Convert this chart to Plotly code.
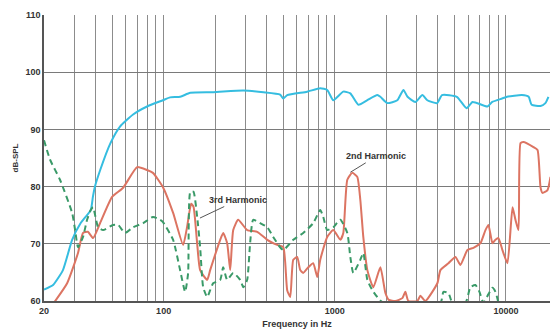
import numpy as np
import plotly.graph_objects as go

# Fundamental (blue)
fund_f = [20, 22.6, 25.8, 29.2, 32.7, 37.5, 38.6, 39.6, 42.6, 48.9, 55.6, 66.3, 80, 99, 109, 125, 143, 195, 292, 383,
          479, 500, 527, 689, 822, 903, 980, 1121, 1232, 1375, 1549, 1771, 1846, 2025, 2318, 2518, 2659, 2957, 3246, 3470,
          3959, 4229, 5161, 5890, 6381, 7785, 8315, 9495, 10140, 12380, 13570, 14120, 15910, 16990, 17700]
fund_db = [62.0, 62.8, 65.4, 70.7, 73.6, 75.9, 78.2, 79.9, 82.9, 87.6, 90.5, 92.6, 94.0, 95.1, 95.6, 95.7, 96.4, 96.5, 96.8, 96.5,
           96.1, 95.4, 96.0, 96.6, 97.2, 96.9, 95.1, 96.6, 96.3, 94.3, 95.1, 96.0, 95.7, 94.6, 95.1, 96.9, 95.7, 94.8, 96.0, 95.1,
           94.6, 96.0, 95.7, 93.7, 94.8, 94.0, 94.8, 95.4, 95.7, 96.0, 95.7, 94.3, 94.1, 94.6, 95.7]

# 2nd harmonic (red)
h2_f = [23, 27.3, 31.6, 33.8, 36.1, 38.7, 42.5, 50, 58, 70, 80, 86.6, 99.1, 113.6, 130, 137, 144.8, 149.4, 157, 163.4,
        179.6, 187, 214, 222.8, 235, 244.8, 255, 272.6, 307.6, 352, 403, 461, 500, 527, 549, 572, 603, 628, 654, 700,
        748, 790, 822, 903, 980, 1077, 1121, 1183, 1265, 1353, 1409, 1467, 1549, 1679, 1846, 1975, 2068, 2257, 2481, 2583,
        2690, 3035, 3163, 3381, 3973, 4140, 4612, 5066, 5418, 5953, 6455, 7092, 7587, 7900, 8337, 8679, 9037, 9535, 10200, 10920,
        11360, 11830, 12160, 12650, 14480, 15290, 15910, 16340, 17480, 18200]
h2_db = [59.8, 63.1, 68.4, 71.9, 72.1, 71.0, 73.6, 78.2, 79.8, 83.4, 82.9, 82.4, 79.9, 75.4, 69.8, 72.9, 77.0, 76.5, 70.0, 65.4,
         63.7, 65.4, 70.7, 71.9, 70.1, 65.4, 72.4, 74.2, 72.4, 72.1, 70.7, 69.8, 69.4, 61.9, 60.7, 67.2, 67.7, 65.4, 64.9, 65.9,
         66.6, 64.2, 67.2, 71.2, 72.4, 70.7, 71.9, 81.2, 82.4, 81.7, 77.7, 71.2, 65.4, 62.4, 65.9, 61.4, 60.2, 60.0, 60.5, 61.6,
         60.0, 60.0, 60.9, 60.0, 63.1, 65.4, 66.6, 67.7, 66.3, 68.9, 69.3, 70.1, 72.4, 73.3, 70.1, 70.7, 71.0, 68.9, 66.6, 76.4,
         74.2, 72.4, 87.6, 87.8, 86.9, 86.4, 79.9, 78.9, 79.4, 81.7]

# 3rd harmonic (green, dashed)
h3_f = [20, 21.7, 24.8, 29.2, 30.4, 31.6, 33.8, 35.7, 37.5, 38.7, 41.4, 44.3, 50.6, 54.2, 59.5, 66.3, 75.9, 86.6, 95.3, 99.1,
        113.6, 124.8, 133.5, 139, 143.2, 149.4, 157, 163.4, 170.2, 179.6, 187, 194.6, 214, 222.8, 235, 255, 280, 292, 307.6, 320,
        333.5, 366.6, 403, 436.6, 479, 500, 572, 654, 748, 822, 856, 903, 980, 1077, 1183, 1232, 1283, 1409, 1467, 1549,
        1656, 1771, 1921, 4140, 4311, 4612, 4864, 5800, 6195, 6630, 7000, 7380, 7900, 8337, 8679, 9037]
h3_db = [88.1, 84.7, 81.2, 75.4, 72.4, 69.4, 71.2, 74.2, 75.9, 76.4, 72.9, 72.4, 73.3, 73.3, 71.9, 72.9, 73.6, 74.7, 74.2, 73.8,
         70.7, 65.4, 61.6, 64.9, 79.1, 79.1, 74.7, 69.4, 62.4, 60.7, 61.9, 63.1, 63.7, 65.9, 63.7, 64.9, 63.7, 62.4, 63.7, 70.1,
         74.2, 73.6, 72.9, 71.2, 69.4, 68.9, 70.7, 71.9, 73.6, 75.9, 74.7, 72.4, 72.9, 74.2, 71.9, 67.7, 64.9, 67.2, 68.4, 63.7,
         61.9, 60.7, 59.7, 59.7, 61.6, 61.4, 59.7, 59.7, 62.4, 62.8, 61.6, 59.7, 61.2, 62.3, 61.6, 59.7]

x_grid = [20, 30, 40, 50, 60, 70, 80, 90, 100, 200, 300, 400, 500, 600, 700, 800, 900,
          1000, 2000, 3000, 4000, 5000, 6000, 7000, 8000, 9000, 10000]
x_labels = {20: "20", 100: "100", 1000: "1000", 10000: "10000"}
y_ticks = [60, 70, 80, 90, 100, 110]

FONT = "Liberation Sans, Arial, sans-serif"

fig = go.Figure()
fig.add_trace(go.Scatter(x=fund_f, y=fund_db, mode="lines",
                         line=dict(color="#35bde0", width=2, shape="spline", smoothing=0.5)))
fig.add_trace(go.Scatter(x=h2_f, y=h2_db, mode="lines",
                         line=dict(color="#dc7462", width=2, shape="spline", smoothing=0.5)))
fig.add_trace(go.Scatter(x=h3_f, y=h3_db, mode="lines",
                         line=dict(color="#3a9a68", width=2, dash="6px,4px", shape="spline", smoothing=0.5)))

fig.update_layout(
    width=550, height=330,
    margin=dict(l=44, r=0, t=15, b=29, autoexpand=False),
    paper_bgcolor="white", plot_bgcolor="white",
    showlegend=False,
    font=dict(family=FONT, size=9, color="#333333"),
    xaxis=dict(type="log", range=[np.log10(20), np.log10(18080)],
               tickvals=x_grid, ticktext=[x_labels.get(v, "") for v in x_grid],
               showgrid=True, gridcolor="#8c8c8c", gridwidth=1,
               showline=True, linecolor="#555555", linewidth=1.5,
               ticks="", zeroline=False, automargin=False,
               tickfont=dict(family=FONT, size=9, color="#333333", weight="bold"),
               title=dict(text="Frequency in Hz", standoff=6,
                          font=dict(family=FONT, size=9, color="#333333", weight="bold"))),
    yaxis=dict(range=[60, 110], tickvals=y_ticks,
               showgrid=True, gridcolor="#7a7a7a", gridwidth=1.2,
               showline=True, linecolor="#555555", linewidth=1.5,
               ticks="", zeroline=False, automargin=False,
               tickfont=dict(family=FONT, size=9, color="#333333", weight="bold"),
               title=dict(text="dB-SPL", standoff=6,
                          font=dict(family=FONT, size=8, color="#333333", weight="bold"))),
    annotations=[
        dict(x=np.log10(1232), y=82.5, xref="x", yref="y", text="2nd Harmonic",
             showarrow=True, arrowhead=0, arrowwidth=1, arrowcolor="#555555",
             ax=26, ay=-16, font=dict(family=FONT, size=9, color="#333333", weight="bold")),
        dict(x=np.log10(163), y=74.5, xref="x", yref="y", text="3rd Harmonic",
             showarrow=True, arrowhead=0, arrowwidth=1, arrowcolor="#555555",
             ax=38, ay=-18, font=dict(family=FONT, size=9, color="#333333", weight="bold")),
    ],
)

fig.write_html("out.html", config={"displayModeBar": False},
               post_script="document.body.style.margin='0';document.body.style.padding='0';")
